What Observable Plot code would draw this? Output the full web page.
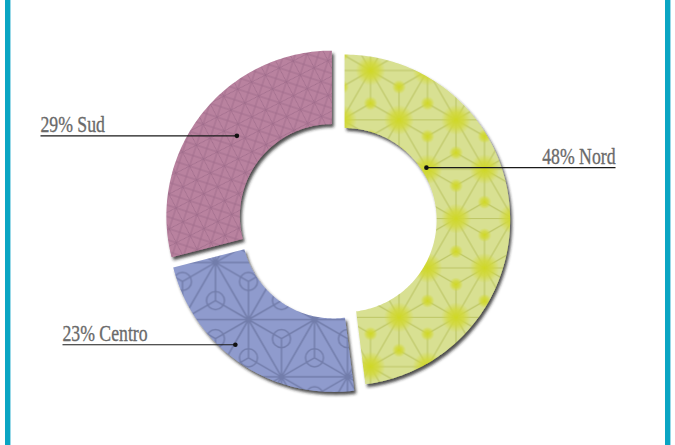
<!DOCTYPE html>
<html><head><meta charset="utf-8">
<script src="https://cdn.jsdelivr.net/npm/d3@7"></script>
<script src="https://cdn.jsdelivr.net/npm/@observablehq/plot@0.6"></script>
<style>
html,body{margin:0;padding:0;background:#fff;}
#wrap{position:relative;width:675px;height:445px;overflow:hidden;}
#wrap::before,#wrap::after{content:"";position:absolute;top:0;bottom:0;width:5px;background:#0aa5c3;box-shadow:1px 0 0 #9ad9e8;}
#wrap::before{left:5px;}
#wrap::after{right:5px;}
</style></head><body><div id="wrap"></div>
<script>
// ---- data ----
const categories = ["Nord", "Centro", "Sud"];
const values = [48, 23, 29];
const units = "%";

// ---- layout / style ----
const W = 675, H = 445;
const CX = 337, CY = 220, R = 165.5;      // pixel centre and outer radius
const INNER = 0.556, EXPLODE = 0.043;     // relative to outer radius
const fills = {Nord: "url(#pNord)", Centro: "url(#pCentro)", Sud: "url(#pSud)"};
// label anchor: fraction along slice angle, fraction across ring, leader end (px), text anchor
const labelLayout = {
  Nord:   {t: 0.332, rr: 0.07, endPx: 615, anchor: "end"},
  Centro: {t: 0.566, rr: 0.84, endPx: 62,  anchor: "start"},
  Sud:    {t: 0.523, rr: 0.44, endPx: 40,  anchor: "start"}
};

const rows = categories.map((c, i) => ({cat: c, value: values[i]}));
const arcs = d3.pie().sort(null).value(d => d.value).startAngle(0).endAngle(2 * Math.PI)(rows);

const ringPts = [];
const labelRows = [];
for (const a of arcs) {
  const c = a.data.cat;
  const mid = (a.startAngle + a.endAngle) / 2;
  const ox = EXPLODE * Math.sin(mid), oy = EXPLODE * Math.cos(mid);
  const n = Math.max(8, Math.ceil((a.endAngle - a.startAngle) / (Math.PI / 180)));
  const pts = [];
  for (let k = 0; k <= n; k++) {
    const ang = a.startAngle + (a.endAngle - a.startAngle) * k / n;
    pts.push({cat: c, x: ox + Math.sin(ang), y: oy + Math.cos(ang)});
  }
  for (let k = n; k >= 0; k--) {
    const ang = a.startAngle + (a.endAngle - a.startAngle) * k / n;
    pts.push({cat: c, x: ox + INNER * Math.sin(ang), y: oy + INNER * Math.cos(ang)});
  }
  ringPts.push(...pts);
  const L = labelLayout[c];
  const ang = a.startAngle + (a.endAngle - a.startAngle) * L.t;
  const rad = INNER + (1 - INNER) * L.rr;
  const dx = ox + rad * Math.sin(ang), dy = oy + rad * Math.cos(ang);
  labelRows.push({
    cat: c,
    label: `${a.data.value}${units} ${c}`,
    x: dx, y: dy,
    x2: (L.endPx - CX) / R,
    anchor: L.anchor
  });
}

const textStyle = {fontFamily: "Liberation Serif", fontSize: 23, fill: "#6a6a6a", stroke: "#6a6a6a", strokeWidth: 0.35};
const chart = Plot.plot({
  width: W, height: H,
  margin: 0,
  x: {domain: [-CX / R, (W - CX) / R], axis: null},
  y: {domain: [-(H - CY) / R, CY / R], axis: null},
  marks: [
    Plot.line(ringPts, {x: "x", y: "y", z: "cat", fill: d => fills[d.cat], stroke: "none", curve: "linear-closed"}),
    Plot.link(labelRows, {x1: "x", y1: "y", x2: "x2", y2: "y", stroke: "#1a1a1a", strokeWidth: 1.2}),
    Plot.dot(labelRows, {x: "x", y: "y", r: 2.3, fill: "#111", stroke: "none"}),
    Plot.text(labelRows.filter(d => d.anchor === "start"), {x: "x2", y: "y", text: "label", textAnchor: "start", lineAnchor: "bottom", dy: -3.5, ...textStyle}),
    Plot.text(labelRows.filter(d => d.anchor === "end"), {x: "x2", y: "y", text: "label", textAnchor: "end", lineAnchor: "bottom", dy: -3.5, ...textStyle})
  ]
});

// ---- decorative patterns and shadow ----
function asanoha(a) {
  const r = a * Math.sqrt(3) / 2, h = 2 * r;
  const tris = [
    [[0,0],[a,0],[a/2,r]], [[0,0],[-a/2,r],[a/2,r]], [[a,0],[a/2,r],[3*a/2,r]],
    [[-a/2,r],[a/2,r],[0,h]], [[a/2,r],[3*a/2,r],[a,h]], [[a/2,r],[0,h],[a,h]]
  ];
  let p = "";
  const cents = [];
  for (const t of tris) {
    const c = [(t[0][0]+t[1][0]+t[2][0])/3, (t[0][1]+t[1][1]+t[2][1])/3];
    cents.push(c);
    p += `M${t[0]}L${t[1]}L${t[2]}Z`;
    for (const v of t) p += `M${v}L${c}`;
  }
  const verts = [[0,0],[a,0],[-a/2,r],[a/2,r],[3*a/2,r],[0,h],[a,h]];
  return {p, cents, verts, w: a, h};
}
const an = asanoha(57);
const ac = asanoha(66);
const defs = `
<radialGradient id="gSpot"><stop offset="0" stop-color="#d0d825"/><stop offset="0.5" stop-color="#d2d93c" stop-opacity="0.85"/><stop offset="1" stop-color="#d3da3a" stop-opacity="0"/></radialGradient>
<pattern id="pNord" patternUnits="userSpaceOnUse" width="${an.w}" height="${an.h}" x="${370 % an.w}" y="${70 % an.h}">
  <rect width="${an.w}" height="${an.h}" fill="#d8e092"/>
  <path d="${an.p}" fill="none" stroke="#bcc564" stroke-width="1.1"/>
  ${an.verts.map(v => `<circle cx="${v[0]}" cy="${v[1]}" r="15" fill="url(#gSpot)"/>`).join("")}
  ${an.cents.map(v => `<circle cx="${v[0]}" cy="${v[1]}" r="7" fill="url(#gSpot)"/>`).join("")}
</pattern>
<pattern id="pCentro" patternUnits="userSpaceOnUse" width="${ac.w}" height="${ac.h}" x="${215 % ac.w}" y="${262 % ac.h}">
  <rect width="${ac.w}" height="${ac.h}" fill="#8f9bcd"/>
  ${ac.cents.map(v => `<circle cx="${v[0]}" cy="${v[1]}" r="9" fill="none" stroke="#727dab" stroke-width="1.5"/>`).join("")}
  <path d="${ac.p}" fill="none" stroke="#727dab" stroke-width="1.5"/>
</pattern>
<pattern id="pSud" patternUnits="userSpaceOnUse" width="22" height="22" patternTransform="rotate(18)">
  <rect width="22" height="22" fill="#b9829f"/>
  <path d="M0 0H22V22H0Z M0 0L22 22 M22 0L0 22 M11 0V22 M0 11H22" fill="none" stroke="#a06d8c" stroke-width="0.9"/>
</pattern>
<filter id="fShadow" x="-10%" y="-10%" width="130%" height="130%">
  <feGaussianBlur in="SourceAlpha" stdDeviation="1.6" result="b"/>
  <feOffset in="b" dx="2" dy="3" result="o"/>
  <feFlood flood-color="#222" flood-opacity="0.8"/>
  <feComposite in2="o" operator="in" result="s"/>
  <feGaussianBlur in="SourceGraphic" stdDeviation="0.6" result="g"/>
  <feMerge><feMergeNode in="s"/><feMergeNode in="g"/></feMerge>
</filter>`;
const svg = d3.select(chart);
svg.insert("defs", ":first-child").html(defs);
svg.selectAll('g[aria-label="line"]').attr("filter", "url(#fShadow)");

// condense label glyphs horizontally (condensed serif look)
svg.selectAll('g[aria-label="text"] text').each(function () {
  const el = d3.select(this);
  let tr = el.attr("transform");
  if (!tr) {
    const x = +el.attr("x") || 0, y = +el.attr("y") || 0;
    el.attr("x", null);
    tr = `translate(${x},${y})`;
  }
  el.attr("transform", `${tr} scale(0.77,1)`);
});

document.getElementById("wrap").appendChild(chart);
</script>
</body></html>
